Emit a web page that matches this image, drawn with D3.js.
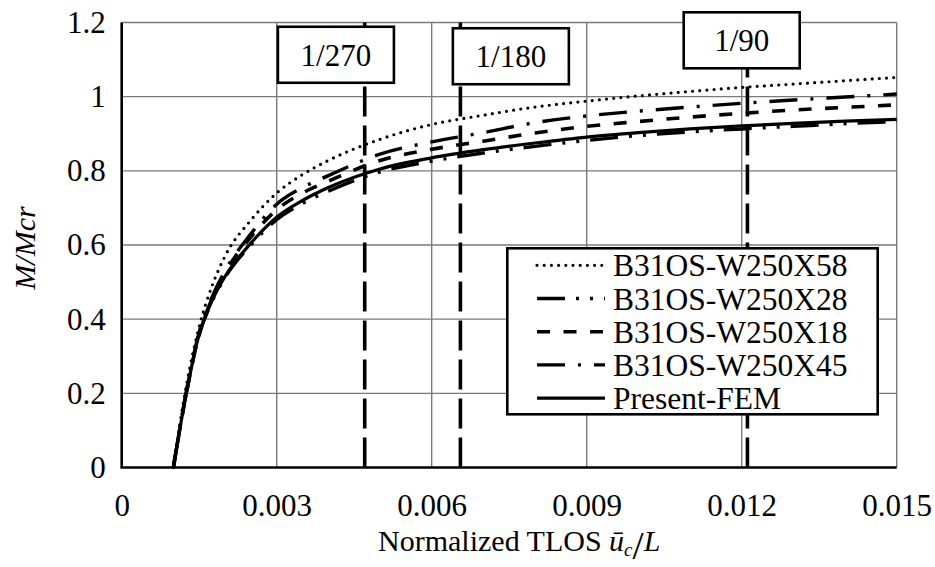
<!DOCTYPE html>
<html>
<head>
<meta charset="utf-8">
<script src="https://cdnjs.cloudflare.com/ajax/libs/d3/7.8.5/d3.min.js"></script>
<style>
    body { margin: 0; background: #fff; }
    svg, svg text { font-family: "Liberation Serif", "Times New Roman", serif; }
</style>
</head>
<body>
<div class="content"></div>
<script>
(function (window) {
    'use strict';

    // ---- data ----
    var xValues = [0.001, 0.00125, 0.0015, 0.00175, 0.002, 0.0025, 0.003, 0.0035, 0.004, 0.005,
        0.006, 0.007, 0.008, 0.009, 0.010, 0.011, 0.012, 0.013, 0.014, 0.015];
    var w250x58 = [0, 0.22, 0.38, 0.49, 0.57, 0.667, 0.74, 0.79, 0.828, 0.885,
        0.925, 0.95, 0.972, 0.988, 1.002, 1.014, 1.025, 1.034, 1.043, 1.052];
    var w250x28 = [0, 0.2, 0.358, 0.448, 0.512, 0.6, 0.668, 0.712, 0.745, 0.797,
        0.826, 0.848, 0.866, 0.882, 0.895, 0.905, 0.913, 0.92, 0.927, 0.933];
    var w250x18 = [0, 0.2, 0.36, 0.455, 0.525, 0.622, 0.695, 0.74, 0.772, 0.828,
        0.858, 0.88, 0.902, 0.92, 0.933, 0.945, 0.955, 0.964, 0.971, 0.978];
    var w250x45 = [0, 0.205, 0.365, 0.46, 0.53, 0.63, 0.71, 0.755, 0.787, 0.845,
        0.878, 0.903, 0.93, 0.948, 0.961, 0.972, 0.982, 0.991, 0.999, 1.007];
    var presentFem = [0, 0.2, 0.36, 0.45, 0.515, 0.605, 0.675, 0.72, 0.755, 0.805,
        0.835, 0.857, 0.875, 0.891, 0.903, 0.913, 0.921, 0.928, 0.934, 0.939];
    var seriesNames = ["B31OS-W250X58", "B31OS-W250X28", "B31OS-W250X18", "B31OS-W250X45", "Present-FEM"];
    var seriesValues = [w250x58, w250x28, w250x18, w250x45, presentFem];

    var xTicks = [0, 0.003, 0.006, 0.009, 0.012, 0.015];
    var xTickLabels = ["0", "0.003", "0.006", "0.009", "0.012", "0.015"];
    var yTicks = [0, 0.2, 0.4, 0.6, 0.8, 1, 1.2];
    var yTickLabels = ["0", "0.2", "0.4", "0.6", "0.8", "1", "1.2"];

    // serviceability limits: L/270, L/180, L/90 measured from the start of the curves
    var limitLabels = ["1/270", "1/180", "1/90"];
    var limitValues = [0.001 + 1 / 270, 0.001 + 1 / 180, 0.001 + 1 / 90];

    // ---- layout ----
    var width = 935, height = 567,
        plot = {left: 121.7, right: 896.7, top: 22.5, bottom: 467.5},
        fontSize = 31,
        serif = "'Liberation Serif', 'Times New Roman', serif",
        dashes = ["0,7.2", "28,11,3,11,3,11", "13,13.5", "28,13,3,13", null],
        widths = [3.2, 3.4, 3.6, 3.4, 3.2],
        // label boxes, anchored in data units (centre x, centre y)
        boxAnchors = [{x: 0.004146, y: 1.113}, {x: 0.007532, y: 1.109}, {x: 0.012, y: 1.152}],
        boxSize = {w: 116, h: 56},
        legendBox = {x: 507.3, y: 248.3, w: 370.4, h: 166, row: 33.2, sampleX1: 537, sampleX2: 605, textX: 613};

    var svg = d3.select(".content").append("svg")
        .attr("width", width)
        .attr("height", height);

    var x = d3.scaleLinear().domain([0, 0.015]).range([plot.left, plot.right]);
    var y = d3.scaleLinear().domain([0, 1.2]).range([plot.bottom, plot.top]);

    // grid
    svg.append("g").selectAll("line.hgrid").data(yTicks.slice(1)).enter().append("line")
        .attr("x1", plot.left).attr("x2", plot.right)
        .attr("y1", function (d) { return y(d); }).attr("y2", function (d) { return y(d); })
        .attr("stroke", "#7a7a7a").attr("stroke-width", 1.4);
    svg.append("g").selectAll("line.vgrid").data(xTicks.slice(1)).enter().append("line")
        .attr("y1", plot.top).attr("y2", plot.bottom)
        .attr("x1", function (d) { return x(d); }).attr("x2", function (d) { return x(d); })
        .attr("stroke", "#7a7a7a").attr("stroke-width", 1.4);

    // axes (labels only, lines drawn below)
    var xAxis = svg.append("g")
        .attr("transform", "translate(0," + plot.bottom + ")")
        .call(d3.axisBottom(x).tickValues(xTicks).tickSize(0).tickPadding(26)
            .tickFormat(function (d, i) { return xTickLabels[i]; }));
    var yAxis = svg.append("g")
        .attr("transform", "translate(" + plot.left + ",0)")
        .call(d3.axisLeft(y).tickValues(yTicks).tickSize(0).tickPadding(16)
            .tickFormat(function (d, i) { return yTickLabels[i]; }));
    [xAxis, yAxis].forEach(function (a) {
        a.attr("font-family", null).attr("font-size", null);
        a.select(".domain").remove();
        a.selectAll("text")
            .style("font-family", serif)
            .attr("font-size", fontSize)
            .attr("fill", "#000");
    });

    // left & bottom axis lines
    svg.append("line")
        .attr("x1", plot.left).attr("x2", plot.left)
        .attr("y1", plot.top).attr("y2", plot.bottom)
        .attr("stroke", "#000").attr("stroke-width", 2.6);
    svg.append("line")
        .attr("x1", plot.left - 1.3).attr("x2", plot.right)
        .attr("y1", plot.bottom).attr("y2", plot.bottom)
        .attr("stroke", "#000").attr("stroke-width", 2.6);

    // limit lines
    svg.append("g").selectAll("line").data(limitValues).enter().append("line")
        .attr("x1", function (d) { return x(d); }).attr("x2", function (d) { return x(d); })
        .attr("y1", plot.bottom).attr("y2", plot.top)
        .attr("stroke", "#000").attr("stroke-width", 3.6)
        .attr("stroke-dasharray", "30,9");

    // curves
    var line = d3.line()
        .x(function (d) { return x(d[0]); })
        .y(function (d) { return y(d[1]); })
        .curve(d3.curveMonotoneX);

    seriesValues.forEach(function (vals, i) {
        var pts = xValues.map(function (xv, j) { return [xv, vals[j]]; });
        var p = svg.append("path")
            .attr("d", line(pts))
            .attr("fill", "none")
            .attr("stroke", "#000")
            .attr("stroke-width", widths[i]);
        if (dashes[i]) {
            p.attr("stroke-dasharray", dashes[i]);
        }
        if (i === 0) {
            p.attr("stroke-linecap", "round");
        }
    });

    // limit label boxes
    var boxes = svg.append("g").selectAll("g").data(limitLabels).enter().append("g")
        .attr("transform", function (d, i) {
            return "translate(" + [x(boxAnchors[i].x), y(boxAnchors[i].y)] + ")";
        });
    boxes.append("rect")
        .attr("x", -boxSize.w / 2).attr("y", -boxSize.h / 2)
        .attr("width", boxSize.w).attr("height", boxSize.h)
        .attr("fill", "#fff").attr("stroke", "#000").attr("stroke-width", 2.6);
    boxes.append("text")
        .attr("text-anchor", "middle")
        .attr("dy", "0.35em")
        .attr("font-size", fontSize)
        .text(function (d) { return d; });

    // legend
    var legend = svg.append("g");
    legend.append("rect")
        .attr("x", legendBox.x).attr("y", legendBox.y)
        .attr("width", legendBox.w).attr("height", legendBox.h)
        .attr("fill", "#fff").attr("stroke", "#000").attr("stroke-width", 2.6);
    var rows = legend.selectAll("g").data(seriesNames).enter().append("g")
        .attr("transform", function (d, i) {
            return "translate(0," + (legendBox.y + 17 + i * legendBox.row) + ")";
        });
    rows.append("line")
        .attr("x1", legendBox.sampleX1).attr("x2", legendBox.sampleX2)
        .attr("stroke", "#000")
        .attr("stroke-width", function (d, i) { return widths[i]; })
        .attr("stroke-dasharray", function (d, i) { return dashes[i]; })
        .attr("stroke-linecap", function (d, i) { return i === 0 ? "round" : "butt"; });
    rows.append("text")
        .attr("x", legendBox.textX)
        .attr("dy", "0.35em")
        .attr("font-size", 31.5)
        .text(function (d) { return d; });

    // axis titles
    svg.append("text")
        .attr("transform", "translate(35,248) rotate(-90)")
        .attr("text-anchor", "middle")
        .attr("font-size", 30)
        .attr("font-style", "italic")
        .text("M/Mcr");

    var xTitle = svg.append("text")
        .attr("x", (plot.left + plot.right) / 2 + 10)
        .attr("y", 551)
        .attr("text-anchor", "middle")
        .attr("font-size", 30);
    xTitle.append("tspan").text("Normalized TLOS ");
    xTitle.append("tspan").attr("font-style", "italic").text("\u016B");
    xTitle.append("tspan").attr("font-style", "italic").attr("font-size", 19)
        .attr("dy", 5).text("c");
    xTitle.append("tspan").attr("font-size", 40).attr("dy", 3).text("/");
    xTitle.append("tspan").attr("font-style", "italic").attr("dy", -8).text("L");
}(window));
</script>
</body>
</html>
